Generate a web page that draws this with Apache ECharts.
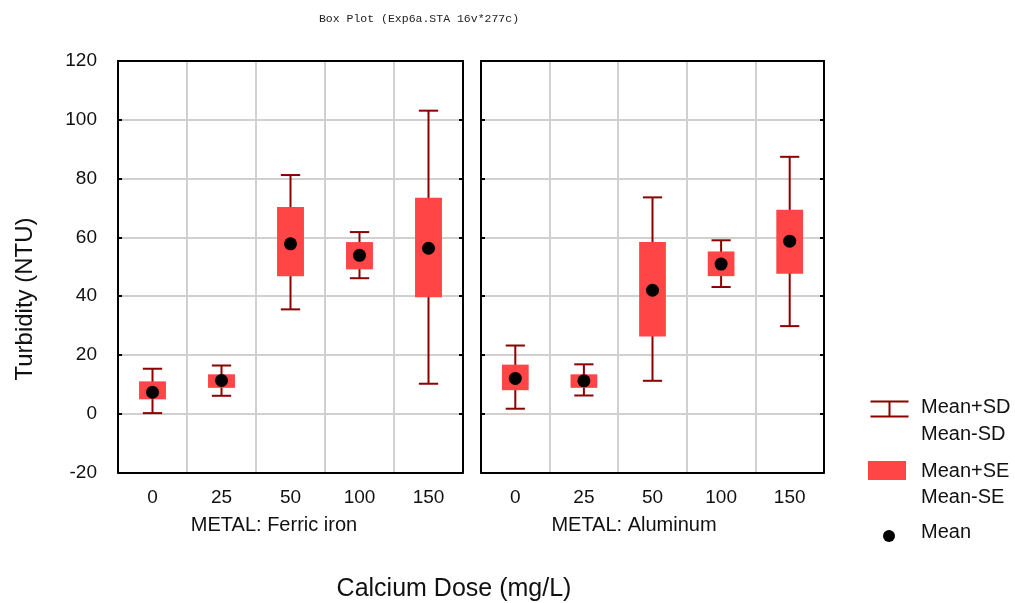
<!DOCTYPE html>
<html>
<head>
<meta charset="utf-8">
<script src="https://cdn.jsdelivr.net/npm/echarts@6/dist/echarts.min.js"></script>
<style>html,body{margin:0;padding:0;background:#fff}#c{width:1015px;height:603px}</style>
</head>
<body>
<div id="c"></div>
<script>
const categories = ['0', '25', '50', '100', '150'];
const yTicks = { min: -20, max: 120, interval: 20 };

// Ferric iron
const ferricMean = [7.3, 11.3, 57.8, 53.9, 56.3];
const ferricSeLo = [4.9, 8.8, 46.8, 49.1, 39.6];
const ferricSeHi = [11.0, 13.4, 70.3, 58.4, 73.5];
const ferricSdLo = [0.2, 6.1, 35.5, 46.1, 10.2];
const ferricSdHi = [15.3, 16.4, 81.2, 61.8, 103.1];

// Aluminum
const aluMean = [12.0, 11.2, 42.0, 50.9, 58.7];
const aluSeLo = [8.0, 8.8, 26.3, 46.8, 47.6];
const aluSeHi = [16.7, 13.4, 58.4, 55.2, 69.4];
const aluSdLo = [1.7, 6.2, 11.2, 43.1, 29.8];
const aluSdHi = [23.2, 16.8, 73.6, 59.0, 87.4];

const panelNames = ['METAL: Ferric iron', 'METAL: Aluminum'];

const FONT = '"Liberation Sans", Arial, sans-serif';
const BOX = '#FF4545';
const WHISK = '#8B0000';
const TXT = '#111';

const chart = echarts.init(document.getElementById('c'));

function whiskerItem(params, api) {
  const c = api.value(0);
  const lo = api.coord([c, api.value(1)]);
  const hi = api.coord([c, api.value(2)]);
  const band = api.size([1, 0])[0];
  const cw = band * 0.28;
  const x = lo[0];
  const st = { stroke: WHISK, lineWidth: 2 };
  return { type: 'group', children: [
    { type: 'line', shape: { x1: x, y1: lo[1], x2: x, y2: hi[1] }, style: st },
    { type: 'line', shape: { x1: x - cw / 2, y1: lo[1], x2: x + cw / 2, y2: lo[1] }, style: st },
    { type: 'line', shape: { x1: x - cw / 2, y1: hi[1], x2: x + cw / 2, y2: hi[1] }, style: st }
  ]};
}
function boxItem(params, api) {
  const c = api.value(0);
  const lo = api.coord([c, api.value(1)]);
  const hi = api.coord([c, api.value(2)]);
  const band = api.size([1, 0])[0];
  const bw = band * 0.39;
  return { type: 'rect', shape: { x: lo[0] - bw / 2, y: hi[1], width: bw, height: lo[1] - hi[1] }, style: { fill: BOX } };
}

const grids = [
  { left: 118, top: 61, width: 345, height: 411.5 },
  { left: 481, top: 61, width: 343, height: 411.5 }
];

const frameLine = { onZero: false, lineStyle: { color: '#000', width: 2 } };
const xAxes = [], yAxes = [];
[0, 1].forEach(g => {
  xAxes.push({
    type: 'category', gridIndex: g, data: categories, position: 'bottom',
    axisLine: frameLine,
    axisTick: { inside: true, length: 4, interval: 0, lineStyle: { color: '#000', width: 2 } },
    axisLabel: { fontFamily: FONT, fontSize: 19, color: TXT, margin: 16, interval: 0 },
    splitLine: { show: true, interval: 0, lineStyle: { color: '#d0d0d0', width: 2 } }
  });
  xAxes.push({
    type: 'category', gridIndex: g, data: categories, position: 'top',
    axisLine: frameLine,
    axisTick: { inside: true, length: 4, interval: 0, lineStyle: { color: '#000', width: 2 } },
    axisLabel: { show: false }, splitLine: { show: false }
  });
  yAxes.push({
    type: 'value', gridIndex: g, position: 'left', min: yTicks.min, max: yTicks.max, interval: yTicks.interval,
    axisLine: Object.assign({ show: true }, frameLine),
    axisTick: { show: true, inside: true, length: 4, lineStyle: { color: '#000', width: 2 } },
    axisLabel: { show: g === 0, fontFamily: FONT, fontSize: 19, color: TXT, margin: 21 },
    splitLine: { show: true, lineStyle: { color: '#d0d0d0', width: 2 } }
  });
  yAxes.push({
    type: 'value', gridIndex: g, position: 'right', min: yTicks.min, max: yTicks.max, interval: yTicks.interval,
    axisLine: Object.assign({ show: true }, frameLine),
    axisTick: { show: true, inside: true, length: 4, lineStyle: { color: '#000', width: 2 } },
    axisLabel: { show: false }, splitLine: { show: false }
  });
});

function rows(lo, hi) { return categories.map((c, i) => [i, lo[i], hi[i]]); }
function pts(m) { return categories.map((c, i) => [i, m[i]]); }

const panels = [
  { mean: ferricMean, seLo: ferricSeLo, seHi: ferricSeHi, sdLo: ferricSdLo, sdHi: ferricSdHi },
  { mean: aluMean, seLo: aluSeLo, seHi: aluSeHi, sdLo: aluSdLo, sdHi: aluSdHi }
];
const series = [];
panels.forEach((p, g) => {
  series.push({ type: 'custom', name: 'SD', xAxisIndex: g * 2, yAxisIndex: g * 2, renderItem: whiskerItem,
    encode: { x: 0, y: [1, 2] }, data: rows(p.sdLo, p.sdHi), silent: true, z: 2 });
  series.push({ type: 'custom', name: 'SE', xAxisIndex: g * 2, yAxisIndex: g * 2, renderItem: boxItem,
    encode: { x: 0, y: [1, 2] }, data: rows(p.seLo, p.seHi), silent: true, z: 3 });
  series.push({ type: 'scatter', name: 'Mean', xAxisIndex: g * 2, yAxisIndex: g * 2, data: pts(p.mean),
    symbol: 'circle', symbolSize: 13, itemStyle: { color: '#000', opacity: 1 }, silent: true, z: 4 });
});

const legendText = { fontFamily: FONT, fontSize: 20, fill: TXT };
function lt(text, top) { return { type: 'text', left: 921, top: top, style: Object.assign({ text: text }, legendText) }; }
chart.setOption({
  animation: false,
  title: [
    { text: 'Box Plot (Exp6a.STA 16v*277c)', left: 414, top: 8, textAlign: 'center',
      textStyle: { fontFamily: '"Liberation Mono", "Courier New", monospace', fontSize: 11.5, fontWeight: 'normal', color: '#222' } }
  ],
  grid: grids,
  xAxis: xAxes,
  yAxis: yAxes,
  series: series,
  graphic: [
    { type: 'text', x: 274, y: 525, style: { text: panelNames[0], fontFamily: FONT, fontSize: 20, fill: TXT, align: 'center', verticalAlign: 'middle' } },
    { type: 'text', x: 634, y: 525, style: { text: panelNames[1], fontFamily: FONT, fontSize: 20, fill: TXT, align: 'center', verticalAlign: 'middle' } },
    { type: 'text', x: 454, y: 589, style: { text: 'Calcium Dose (mg/L)', fontFamily: FONT, fontSize: 25, fill: TXT, align: 'center', verticalAlign: 'middle' } },
    { type: 'text', x: 25, y: 299, rotation: Math.PI / 2, style: { text: 'Turbidity (NTU)', fontFamily: FONT, fontSize: 24, fill: TXT, align: 'center', verticalAlign: 'middle' } },
    { type: 'group', left: 868, top: 399, children: [
      { type: 'line', shape: { x1: 0, y1: 1, x2: 38, y2: 1 }, style: { stroke: WHISK, lineWidth: 2 } },
      { type: 'line', shape: { x1: 19, y1: 1, x2: 19, y2: 16 }, style: { stroke: WHISK, lineWidth: 2 } },
      { type: 'line', shape: { x1: 0, y1: 16, x2: 38, y2: 16 }, style: { stroke: WHISK, lineWidth: 2 } }
    ]},
    lt('Mean+SD', 397),
    lt('Mean-SD', 424),
    { type: 'rect', left: 868, top: 461, shape: { width: 38, height: 19 }, style: { fill: BOX } },
    lt('Mean+SE', 461),
    lt('Mean-SE', 487),
    { type: 'circle', left: 883, top: 530, shape: { r: 6 }, style: { fill: '#000' } },
    lt('Mean', 522)
  ]
});
</script>
</body>
</html>
